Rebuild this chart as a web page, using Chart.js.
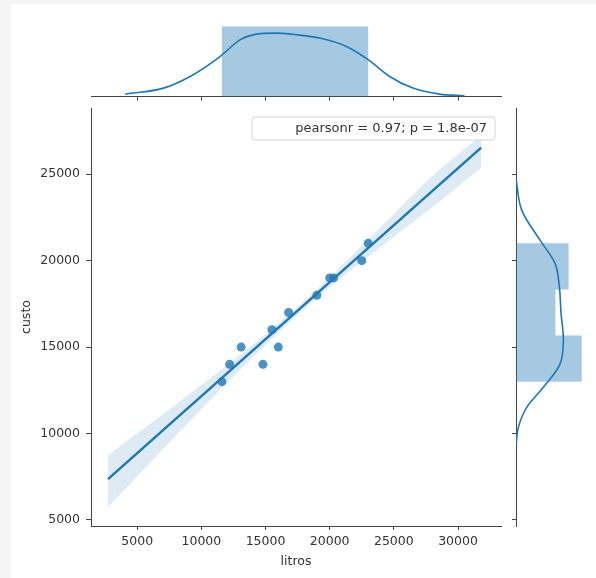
<!DOCTYPE html>
<html>
<head>
<meta charset="utf-8">
<script src="https://cdn.jsdelivr.net/npm/chart.js@4/dist/chart.umd.min.js"></script>
<style>
  body { margin: 0; background: #f5f5f5; }
  #wrap { position: relative; width: 596px; height: 578px; }
  #paper { position: absolute; left: 11px; top: 4px; width: 585px; height: 574px; background: #fff; }
  canvas { position: absolute; left: 0; top: 0; }
</style>
</head>
<body>
<div id="wrap">
  <div id="paper"></div>
  <canvas id="topChart" width="596" height="578"></canvas>
  <canvas id="rightChart" width="596" height="578"></canvas>
  <canvas id="mainChart" width="596" height="578"></canvas>
</div>
<script>
const litros = [11600, 12200, 13100, 14800, 15500, 16000, 16800, 19000, 20000, 20300, 22500, 23000];
const custo  = [13000, 14000, 15000, 14000, 16000, 15000, 17000, 18000, 19000, 19000, 20000, 21000];

// regression line and its confidence band
const regX = [2722, 31804];
const regY = [7361, 26536];
const bandX     = [2722, 6500, 10000, 14000, 17000, 20000, 24000, 28000, 31804];
const bandUpper = [8750, 10840, 12800, 15140, 17000, 19040, 21960, 24890, 27250];
const bandLower = [5740, 8690, 11400, 14390, 16540, 18460, 20800, 23090, 25380];

// top marginal (litros): histogram edges/density and kde (density x 1e5)
const histXEdges = [11600, 23000];
const histXDens = [8.77];
const kdeX  = [4067, 7045, 9121, 11454, 13010, 14308, 15731, 17418, 19230, 21306, 23017, 24673, 26485, 28561, 30505];
const kdeXD = [0.30, 1.05, 2.51, 5.01, 7.10, 7.82, 7.94, 7.73, 7.32, 6.27, 4.60, 2.51, 1.05, 0.30, 0.09];

// right marginal (custo)
const histYEdges = [13000, 15667, 18333, 21000];
const histYDens = [15.62, 9.37, 12.5];
const kdeY  = [24662, 22923, 21183, 19831, 18473, 16931, 15382, 14031, 12673, 11513, 10353, 9391];
const kdeYD = [0.05, 1.36, 5.71, 9.29, 10.31, 10.71, 11.26, 10.48, 6.5, 2.55, 0.55, 0.05];

const xTicks = [5000, 10000, 15000, 20000, 25000, 30000];
const yTicks = [5000, 10000, 15000, 20000, 25000];
const legendText = 'pearsonr = 0.97; p = 1.8e-07';

const X_MIN = 1400, X_MAX = 33350;
const Y_MIN = 4650, Y_MAX = 28830;

const blue = '#1f77b4';
const axisColor = '#444';
const textColor = '#333';
const fontFamily = "'DejaVu Sans', sans-serif";

Chart.defaults.font.family = fontFamily;
Chart.defaults.color = textColor;

function pts(xs, ys) { return xs.map((x, i) => ({ x: x, y: ys[i] })); }
function setTicks(vals) { return s => { s.ticks = vals.map(v => ({ value: v })); }; }

const noPlugins = { legend: { display: false }, tooltip: { enabled: false } };

// legend box with pearson text
const statBox = {
    id: 'statBox',
    afterDraw(chart) {
        const { ctx, chartArea } = chart;
        const right = chartArea.right - 6, top = chartArea.top + 9;
        const w = 243, h = 23;
        ctx.save();
        ctx.beginPath();
        ctx.roundRect(right - w, top, w, h, 3);
        ctx.fillStyle = 'rgba(255,255,255,0.85)';
        ctx.fill();
        ctx.strokeStyle = '#d5d5d5';
        ctx.lineWidth = 1;
        ctx.stroke();
        ctx.fillStyle = textColor;
        ctx.font = '13px ' + fontFamily;
        ctx.textAlign = 'right';
        ctx.textBaseline = 'middle';
        ctx.fillText(legendText, right - 8, top + h / 2 + 0.5);
        ctx.restore();
    }
};

// main joint plot
new Chart(document.getElementById('mainChart'), {
    type: 'scatter',
    data: {
        datasets: [
            {
                data: pts(litros, custo),
                backgroundColor: 'rgba(31,119,180,0.8)',
                borderWidth: 0,
                pointRadius: 4.5
            },
            {
                type: 'line',
                data: pts(regX, regY),
                borderColor: blue,
                borderWidth: 2.5,
                pointRadius: 0,
                fill: false
            },
            {
                type: 'line',
                data: pts(bandX, bandUpper),
                borderWidth: 0,
                pointRadius: 0,
                tension: 0.3,
                backgroundColor: 'rgba(31,119,180,0.15)',
                fill: '+1'
            },
            {
                type: 'line',
                data: pts(bandX, bandLower),
                borderWidth: 0,
                pointRadius: 0,
                tension: 0.3,
                fill: false
            }
        ]
    },
    options: {
        responsive: false,
        animation: false,
        layout: { padding: { top: 108, right: 95, left: 0, bottom: 0 } },
        scales: {
            x: {
                type: 'linear',
                min: X_MIN,
                max: X_MAX,
                afterBuildTicks: setTicks(xTicks),
                afterFit: s => { s.height = 52; },
                grid: { drawOnChartArea: false, tickLength: 4, tickColor: axisColor },
                border: { display: true, color: axisColor },
                ticks: { padding: 4, font: { size: 12.5 }, color: textColor, callback: v => String(v) },
                title: { display: true, text: 'litros', font: { size: 12.5 }, color: textColor, padding: { top: 0, bottom: 8.5 } }
            },
            y: {
                type: 'linear',
                min: Y_MIN,
                max: Y_MAX,
                afterBuildTicks: setTicks(yTicks),
                afterFit: s => { s.width = 91; },
                grid: { drawOnChartArea: false, tickLength: 5, tickColor: axisColor },
                border: { display: true, color: axisColor },
                ticks: { padding: 6, font: { size: 12.5 }, color: textColor, callback: v => String(v) },
                title: { display: true, text: 'custo', font: { size: 12.5 }, color: textColor, padding: { top: 19.5, bottom: 0 } }
            }
        },
        plugins: noPlugins
    },
    plugins: [statBox]
});

// top marginal: litros distribution
const histXShape = [
    { x: histXEdges[0], y: 0 }, { x: histXEdges[0], y: histXDens[0] },
    { x: histXEdges[1], y: histXDens[0] }, { x: histXEdges[1], y: 0 }
];
new Chart(document.getElementById('topChart'), {
    type: 'scatter',
    data: {
        datasets: [
            {
                type: 'line',
                data: pts(kdeX, kdeXD),
                borderColor: blue,
                borderWidth: 1.6,
                pointRadius: 0,
                cubicInterpolationMode: 'monotone',
                fill: false
            },
            {
                type: 'line',
                data: histXShape,
                borderWidth: 0,
                pointRadius: 0,
                backgroundColor: 'rgba(31,119,180,0.4)',
                fill: 'shape'
            }
        ]
    },
    options: {
        responsive: false,
        animation: false,
        layout: { padding: { top: 23, right: 95, left: 91, bottom: 476.5 } },
        scales: {
            x: {
                type: 'linear',
                min: X_MIN,
                max: X_MAX,
                afterBuildTicks: setTicks(xTicks),
                afterFit: s => { s.height = 5; },
                grid: { drawOnChartArea: false, tickLength: 4, tickColor: axisColor },
                border: { display: true, color: axisColor },
                ticks: { display: false }
            },
            y: { display: false, min: 0, max: 9.21 }
        },
        plugins: noPlugins
    }
});

// right marginal: custo distribution
const histYShape = [{ x: 0, y: histYEdges[0] }];
histYDens.forEach((d, i) => {
    histYShape.push({ x: d, y: histYEdges[i] });
    histYShape.push({ x: d, y: histYEdges[i + 1] });
});
histYShape.push({ x: 0, y: histYEdges[histYEdges.length - 1] });

new Chart(document.getElementById('rightChart'), {
    type: 'scatter',
    data: {
        datasets: [
            {
                type: 'line',
                data: pts(kdeYD, kdeY),
                borderColor: blue,
                borderWidth: 1.6,
                pointRadius: 0,
                tension: 0.35,
                fill: false
            },
            {
                type: 'line',
                data: histYShape,
                borderWidth: 0,
                pointRadius: 0,
                backgroundColor: 'rgba(31,119,180,0.4)',
                fill: 'shape'
            }
        ]
    },
    options: {
        responsive: false,
        animation: false,
        layout: { padding: { top: 108, right: 11, left: 511, bottom: 52 } },
        scales: {
            x: { type: 'linear', display: false, min: 0, max: 16.4 },
            y: {
                type: 'linear',
                min: Y_MIN,
                max: Y_MAX,
                afterBuildTicks: setTicks(yTicks),
                afterFit: s => { s.width = 5; },
                grid: { drawOnChartArea: false, tickLength: 4, tickColor: axisColor },
                border: { display: true, color: axisColor },
                ticks: { display: false }
            }
        },
        plugins: noPlugins
    }
});
</script>
</body>
</html>
